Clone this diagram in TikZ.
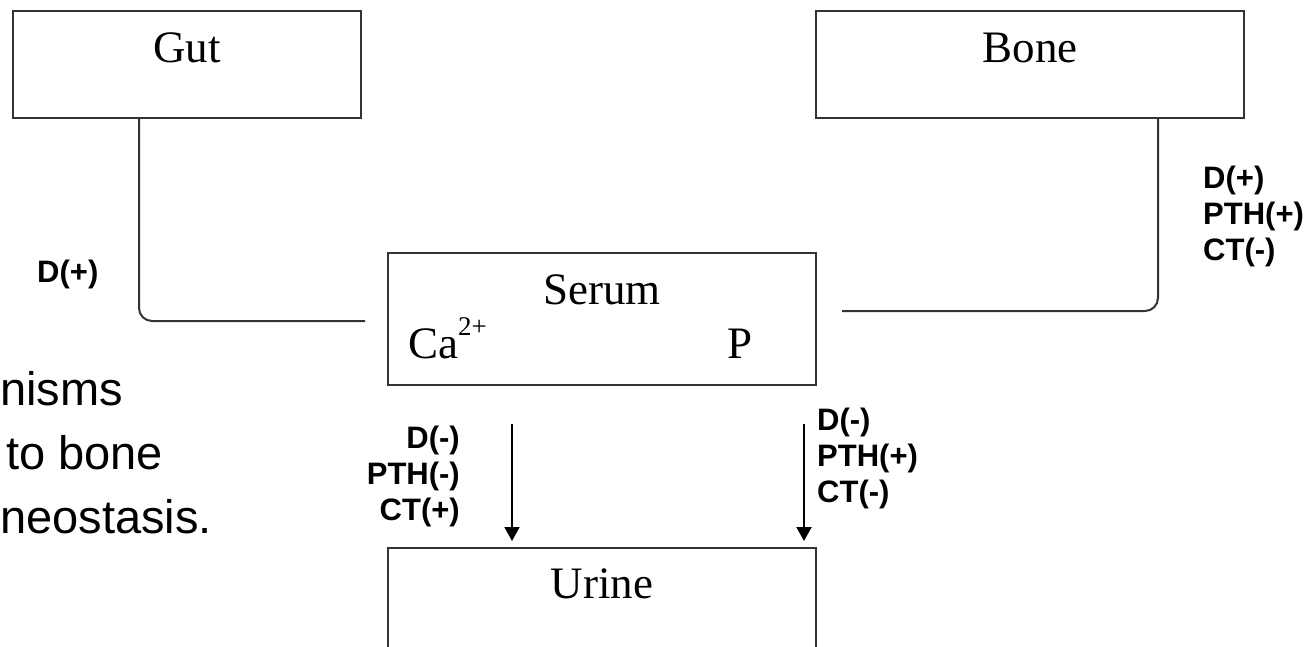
\documentclass[tikz,border=0pt]{standalone}
\usepackage{fontspec}
\setmainfont{Liberation Serif}
\setsansfont{Liberation Sans}
\usetikzlibrary{arrows.meta,positioning}

\begin{document}
\begin{tikzpicture}[x=1pt,y=-1pt,
    organ/.style={draw=black!80, line width=2pt, inner sep=0pt, font=\fontsize{45}{54}\selectfont, text height=52pt, text depth=55pt},
    flow/.style={draw=black!80, line width=2pt, rounded corners=13pt},
    arr/.style={-{Triangle[width=15pt,length=14pt]}, line width=2pt},
    hormone/.style={font=\fontsize{31}{36}\selectfont\sffamily\bfseries, inner sep=0pt},
    ]
  \useasboundingbox (0,0) rectangle (1307,647);
  \clip (0,0) rectangle (1307,647);

  % compartments
  \node[organ, minimum width=348pt, anchor=north west] (gut) at (12,10) {Gut};
  \node[organ, minimum width=428pt, right=453pt of gut] (bone) {Bone};
  \node[organ, minimum width=428pt, text depth=80pt, below right=133pt and 25pt of gut.south east] (serum) {Serum};
  \node[organ, minimum width=428pt, text height=50pt, text depth=70pt, below=161pt of serum] (urine) {Urine};
  \node[anchor=base west, inner sep=0pt, font=\fontsize{45}{54}\selectfont] (ca) at (408,358) {Ca\raisebox{0.5em}{\fontsize{27}{30}\selectfont 2+}};
  \node[anchor=base east, inner sep=0pt, font=\fontsize{45}{54}\selectfont] (p) at (753,358) {P};

  % exchanges with serum
  \draw[flow] ([xshift=-48pt]gut.south) |- ([xshift=-22pt,yshift=-2pt]serum.west);
  \draw[flow] ([xshift=128pt]bone.south) |- ([xshift=25pt,yshift=8pt]serum.east);
  \draw[arr] ([xshift=125pt,yshift=-38pt]serum.south west) -- ([xshift=125pt,yshift=6pt]urine.north west);
  \draw[arr] ([xshift=-13pt,yshift=-38pt]serum.south east) -- ([xshift=-13pt,yshift=6pt]urine.north east);

  % hormone effects
  \node[hormone, anchor=base west] (gutD) at (37,283) {D(+)};
  \node[hormone, align=left, anchor=north west] (boneH) at (1203,166) {D(+)\\PTH(+)\\CT(-)};
  \node[hormone, align=right, anchor=north east] (urineL) at (460,426) {D(-)\\PTH(-)\\CT(+)};
  \node[hormone, align=left, anchor=north west] (urineR) at (817,408) {D(-)\\PTH(+)\\CT(-)};

  \node[anchor=north west, align=left, inner sep=0pt, font=\fontsize{47}{64}\selectfont\sffamily] (note) at (0,371) {nisms\\\hspace*{6pt}to bone\\neostasis.};
\end{tikzpicture}
\end{document}
